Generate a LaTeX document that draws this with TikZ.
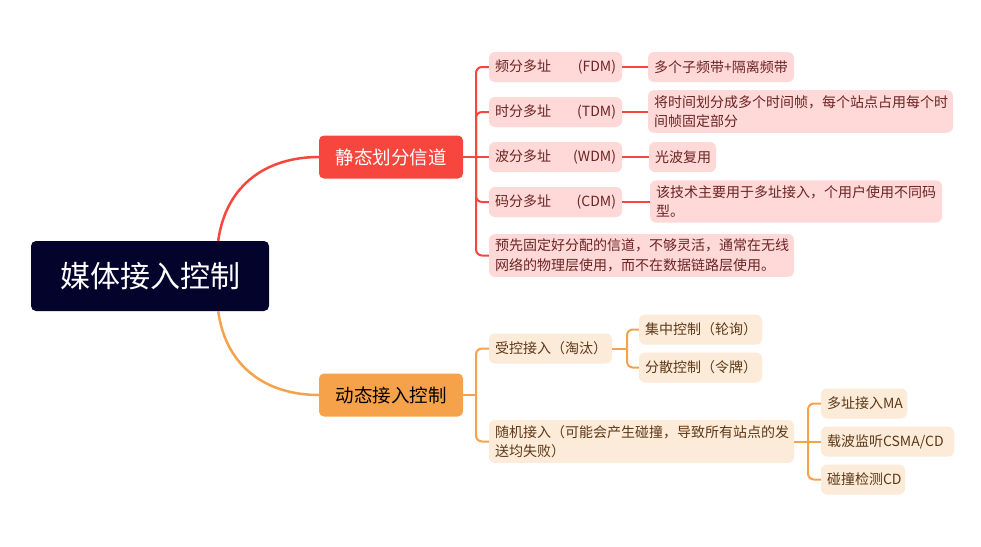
\documentclass[tikz,border=0pt]{standalone}
\usepackage{fontspec}
\setmainfont{Noto Sans CJK SC}
\newfontfamily\cjk{Noto Sans CJK SC}
\usetikzlibrary{positioning}

\definecolor{rootnavy}{HTML}{03032B}
\definecolor{statred}{HTML}{F7463E}
\definecolor{dynorange}{HTML}{F6A24B}
\definecolor{redsoft}{HTML}{FFD9D7}
\definecolor{redink}{HTML}{6A2424}
\definecolor{orangesoft}{HTML}{FDEBDA}
\definecolor{orangeink}{HTML}{5C3816}

\begin{document}
\begin{tikzpicture}[
  x=1pt, y=-1pt,
  rootbox/.style = {fill=rootnavy, rounded corners=5pt, text=white,
                    minimum width=238pt, minimum height=70pt,
                    font=\cjk\fontsize{30}{36}\selectfont},
  topicbox/.style = {rounded corners=5pt, minimum width=144pt, minimum height=43pt,
                     font=\cjk\fontsize{18.5}{22}\selectfont},
  redsub/.style = {fill=redsoft, text=redink, rounded corners=6pt,
                   inner xsep=6pt, inner ysep=5pt, minimum height=30pt, align=left,
                   font=\cjk\fontsize{14}{19.5}\selectfont},
  orangesub/.style = {redsub, fill=orangesoft, text=orangeink},
  redline/.style = {draw=statred, line width=2pt, rounded corners=6pt},
  orangeline/.style = {draw=dynorange, line width=2pt, rounded corners=6pt},
]
\useasboundingbox[fill=white] (0,0) rectangle (981,546);

% root and the two main topics
\node[rootbox] (root) at (150,276) {媒体接入控制};
\node[topicbox, fill=statred, text=white] (static) at (391,157) {静态划分信道};
\node[topicbox, fill=dynorange, text=black] (dynamic) at (391,395) {动态接入控制};

% static branch
\node[redsub, text width=121pt] (fdm) at (555.5,67) {频分多址\hfill(FDM)};
\node[redsub, text width=121pt] (tdm) at (555.5,112) {时分多址\hfill(TDM)};
\node[redsub, text width=121pt] (wdm) at (555.5,157) {波分多址\hfill(WDM)};
\node[redsub, text width=121pt] (cdm) at (555.5,202) {码分多址\hfill(CDM)};
\node[redsub, text width=293pt] (fixed) at (641.5,255.5)
  {预先固定好分配的信道，不够灵活，通常在无线\\网络的物理层使用，而不在数据链路层使用。};

\node[redsub, text width=134pt] (fdmleaf) at (721,67) {多个子频带+隔离频带};
\node[redsub, text width=293pt] (tdmleaf) at (800.5,111.5)
  {将时间划分成多个时间帧，每个站点占用每个时\\间帧固定部分};
\node[redsub, text width=55pt] (wdmleaf) at (682.5,157) {光波复用};
\node[redsub, text width=280pt] (cdmleaf) at (796,201.5)
  {该技术主要用于多址接入，个用户使用不同码\\型。};

% dynamic branch
\node[orangesub, text width=111pt] (ctrl) at (550.5,348.5) {受控接入（淘汰）};
\node[orangesub, text width=293pt] (rand) at (641.5,441.5)
  {随机接入（可能会产生碰撞，导致所有站点的发\\送均失败）};
\node[orangesub, text width=111pt] (central) at (700.5,329.5) {集中控制（轮询）};
\node[orangesub, text width=111pt] (token) at (700.5,367.5) {分散控制（令牌）};
\node[orangesub, text width=74pt] (ma) at (864,403.5) {多址接入MA};
\node[orangesub, text width=121pt] (csma) at (887.5,441.5) {载波监听CSMA/CD};
\node[orangesub, text width=72pt] (cd) at (863,479.5) {碰撞检测CD};

\coordinate (stathub) at (476,157);
\coordinate (dynhub) at (476,395);
\coordinate (ctrlhub) at (627,348.5);
\coordinate (randhub) at (808,441.5);

% curves from the root
\draw[statred, line width=2.5pt] ([xshift=-51pt]root.north east)
  .. controls +(8,-58) and +(-50,0) .. (static.west);
\draw[dynorange, line width=2.5pt] ([xshift=-51pt]root.south east)
  .. controls +(8,58) and +(-50,0) .. (dynamic.west);

% static tree
\draw[redline] (static.east) -- (stathub);
\draw[redline] (stathub) |- (fdm.west);
\draw[redline] (stathub) |- (tdm.west);
\draw[redline] (stathub) |- (cdm.west);
\draw[redline] (stathub) |- (fixed.west);
\draw[redline] (stathub) -- (wdm.west);
\draw[redline] (fdm) -- (fdmleaf);
\draw[redline] (tdm.east) -- (tdm.east -| tdmleaf.west);
\draw[redline] (wdm) -- (wdmleaf);
\draw[redline] (cdm.east) -- (cdm.east -| cdmleaf.west);

% dynamic tree
\draw[orangeline] (dynamic.east) -- (dynhub);
\draw[orangeline] (dynhub) |- (ctrl.west);
\draw[orangeline] (dynhub) |- (rand.west);
\draw[orangeline] (ctrl.east) -- (ctrlhub);
\draw[orangeline] (ctrlhub) |- (central.west);
\draw[orangeline] (ctrlhub) |- (token.west);
\draw[orangeline] (rand.east) -- (randhub);
\draw[orangeline] (randhub) |- (ma.west);
\draw[orangeline] (randhub) -- (csma.west);
\draw[orangeline] (randhub) |- (cd.west);

\end{tikzpicture}
\end{document}
